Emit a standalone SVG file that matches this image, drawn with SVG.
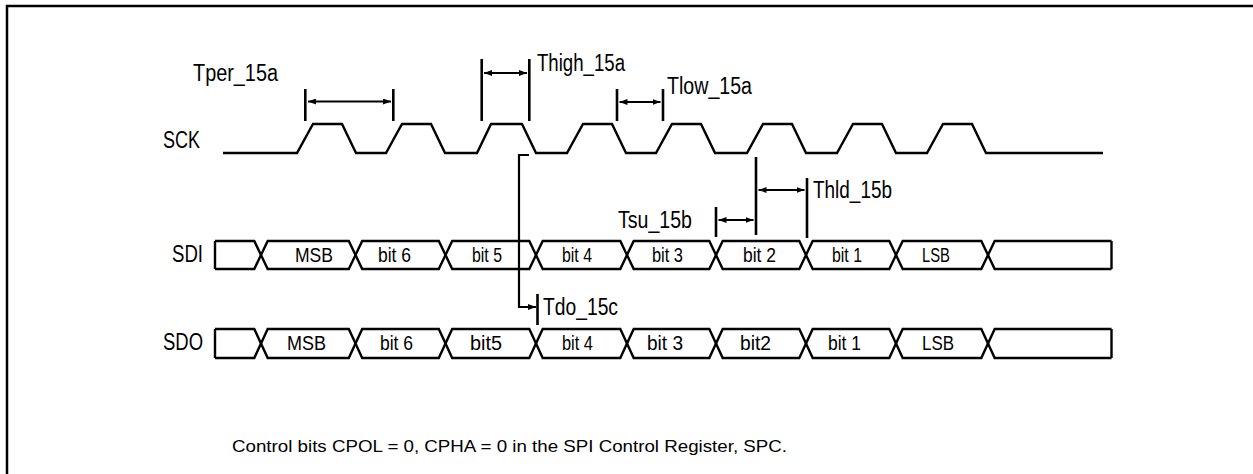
<svg xmlns="http://www.w3.org/2000/svg" width="1253" height="474" viewBox="0 0 1253 474">
<style>
.w{fill:none;stroke:#000;stroke-width:2.4;stroke-linejoin:miter}
.m{stroke:#000;stroke-width:2.6}
.a{stroke:#000;stroke-width:2.2;fill:none}
.t{font-family:"Liberation Sans",Arial,sans-serif;font-size:23px;fill:#000}
.d{font-family:"Liberation Sans",Arial,sans-serif;font-size:20px;fill:#000}
.n{font-family:"Liberation Sans",Arial,sans-serif;font-size:17px;fill:#000}
</style>
<defs>
<marker id="ah" viewBox="0 0 8 6" refX="8" refY="3" markerWidth="8" markerHeight="6" markerUnits="userSpaceOnUse" orient="auto-start-reverse">
<path d="M0,0 L8,3 L0,6 z" fill="#000"/>
</marker>
</defs>
<rect x="7" y="6" width="1300" height="520" fill="#fff" stroke="#000" stroke-width="2.5"/>

<g id="SCK">
<text class="t" x="163" y="148" textLength="37" lengthAdjust="spacingAndGlyphs">SCK</text>
<path class="w" d="M223,153 H297 L313,124 H342 L356,153 H386 L402,124 H431 L445,153 H477 L491,124 H522 L536,153 H567 L583,124 H612 L626,153 H656 L672,124 H701 L715,153 H747 L763,124 H792 L806,153 H837 L853,124 H882 L896,153 H927 L943,124 H972 L986,153 H1103"/>
</g>

<g id="SDI">
<text class="t" x="172" y="262" textLength="31" lengthAdjust="spacingAndGlyphs">SDI</text>
<path class="w" d="M215,241 V269 M1111.5,241 V269"/>
<path class="w" d="M215,241 H254.3 L267.7,269 H348.8 L362.2,241 H438.8 L452.2,269 H529.3 L542.7,241 H620.3 L633.7,269 H709.3 L722.7,241 H799.3 L812.7,269 H889.3 L902.7,241 H981.3 L994.7,269 H1111.5"/>
<path class="w" d="M215,269 H254.3 L267.7,241 H348.8 L362.2,269 H438.8 L452.2,241 H529.3 L542.7,269 H620.3 L633.7,241 H709.3 L722.7,269 H799.3 L812.7,241 H889.3 L902.7,269 H981.3 L994.7,241 H1111.5"/>
<text class="d" x="295" y="262" textLength="38" lengthAdjust="spacingAndGlyphs">MSB</text>
<text class="d" x="378" y="262" textLength="33" lengthAdjust="spacingAndGlyphs">bit 6</text>
<text class="d" x="472" y="262" textLength="30" lengthAdjust="spacingAndGlyphs">bit 5</text>
<text class="d" x="562" y="262" textLength="30" lengthAdjust="spacingAndGlyphs">bit 4</text>
<text class="d" x="652" y="262" textLength="31" lengthAdjust="spacingAndGlyphs">bit 3</text>
<text class="d" x="743" y="262" textLength="33" lengthAdjust="spacingAndGlyphs">bit 2</text>
<text class="d" x="832" y="262" textLength="30" lengthAdjust="spacingAndGlyphs">bit 1</text>
<text class="d" x="922" y="262" textLength="28" lengthAdjust="spacingAndGlyphs">LSB</text>
</g>

<g id="SDO">
<text class="t" x="163" y="350" textLength="40" lengthAdjust="spacingAndGlyphs">SDO</text>
<path class="w" d="M215,329 V358 M1111.5,329 V358"/>
<path class="w" d="M215,329 H254.3 L267.7,358 H348.8 L362.2,329 H438.8 L452.2,358 H529.3 L542.7,329 H620.3 L633.7,358 H709.3 L722.7,329 H799.3 L812.7,358 H889.3 L902.7,329 H981.3 L994.7,358 H1111.5"/>
<path class="w" d="M215,358 H254.3 L267.7,329 H348.8 L362.2,358 H438.8 L452.2,329 H529.3 L542.7,358 H620.3 L633.7,329 H709.3 L722.7,358 H799.3 L812.7,329 H889.3 L902.7,358 H981.3 L994.7,329 H1111.5"/>
<text class="d" x="287" y="350" textLength="39" lengthAdjust="spacingAndGlyphs">MSB</text>
<text class="d" x="380" y="350" textLength="33" lengthAdjust="spacingAndGlyphs">bit 6</text>
<text class="d" x="470" y="350" textLength="32" lengthAdjust="spacingAndGlyphs">bit5</text>
<text class="d" x="562" y="350" textLength="31" lengthAdjust="spacingAndGlyphs">bit 4</text>
<text class="d" x="647" y="350" textLength="36" lengthAdjust="spacingAndGlyphs">bit 3</text>
<text class="d" x="740" y="350" textLength="31" lengthAdjust="spacingAndGlyphs">bit2</text>
<text class="d" x="828" y="350" textLength="33" lengthAdjust="spacingAndGlyphs">bit 1</text>
<text class="d" x="922" y="350" textLength="32" lengthAdjust="spacingAndGlyphs">LSB</text>
</g>

<g id="Tper">
<line class="m" x1="305.3" y1="89" x2="305.3" y2="121"/>
<line class="m" x1="393.3" y1="89" x2="393.3" y2="121"/>
<text class="t" x="193" y="81" textLength="85" lengthAdjust="spacingAndGlyphs">Tper_15a</text>
</g>
<g id="Thigh">
<line class="m" x1="481.7" y1="59" x2="481.7" y2="121"/>
<line class="m" x1="529.3" y1="59" x2="529.3" y2="121"/>
<text class="t" x="537" y="71" textLength="88" lengthAdjust="spacingAndGlyphs">Thigh_15a</text>
</g>
<g id="Tlow">
<line class="m" x1="617" y1="89" x2="617" y2="121"/>
<line class="m" x1="663" y1="89" x2="663" y2="121"/>
<text class="t" x="667" y="94" textLength="85" lengthAdjust="spacingAndGlyphs">Tlow_15a</text>
</g>
<g id="Tsu">
<line class="m" x1="716" y1="207" x2="716" y2="237"/>
<line class="m" x1="756" y1="157" x2="756" y2="235"/>
<text class="t" x="618" y="228" textLength="74" lengthAdjust="spacingAndGlyphs">Tsu_15b</text>
</g>
<g id="Thld">
<line class="m" x1="807" y1="178" x2="807" y2="238"/>
<text class="t" x="813" y="198" textLength="79" lengthAdjust="spacingAndGlyphs">Thld_15b</text>
</g>
<g id="Tdo">
<line class="m" x1="537.5" y1="294" x2="537.5" y2="325"/>
<text class="t" x="543" y="315" textLength="75" lengthAdjust="spacingAndGlyphs">Tdo_15c</text>
</g>

<g id="connectors">
<line class="a" x1="308" y1="101.5" x2="391" y2="101.5" marker-start="url(#ah)" marker-end="url(#ah)"/>
<line class="a" x1="484" y1="73" x2="527" y2="73" marker-start="url(#ah)" marker-end="url(#ah)"/>
<line class="a" x1="619.5" y1="102" x2="660.5" y2="102" marker-start="url(#ah)" marker-end="url(#ah)"/>
<line class="a" x1="718.5" y1="220" x2="753.5" y2="220" marker-start="url(#ah)" marker-end="url(#ah)"/>
<line class="a" x1="758.5" y1="190" x2="804.5" y2="190" marker-start="url(#ah)" marker-end="url(#ah)"/>
<path class="a" d="M529,155 H519 V307 H536" marker-end="url(#ah)"/>
</g>

<text class="n" x="232" y="452" textLength="555" lengthAdjust="spacingAndGlyphs">Control bits CPOL = 0, CPHA = 0 in the SPI Control Register, SPC.</text>
</svg>
